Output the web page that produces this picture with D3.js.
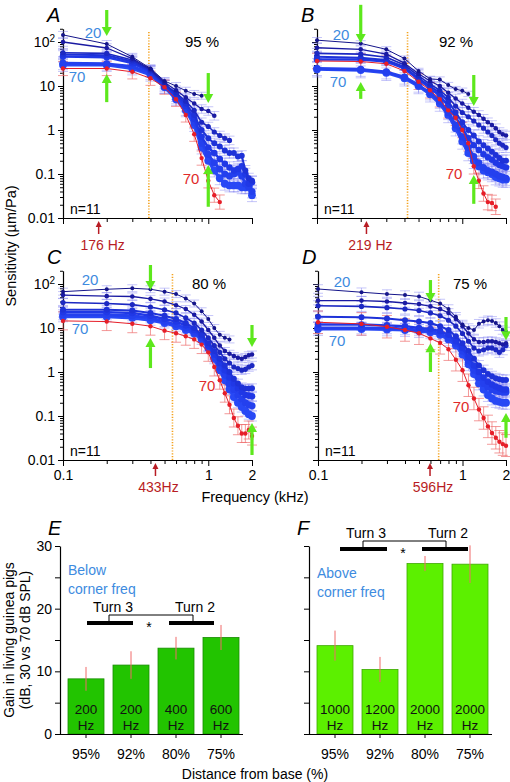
<!DOCTYPE html>
<html><head><meta charset="utf-8">
<script src="https://cdn.jsdelivr.net/npm/d3@7"></script>
<style>
body{margin:0;background:#fff}
svg{display:block}
text{font-family:"Liberation Sans",Arial,Helvetica,sans-serif}
</style>
</head><body>
<svg id="c" width="510" height="782"></svg>
<script>
// ---------------- DATA ----------------
const freqs = [0.1,0.2,0.3,0.4,0.5,0.6,0.7,0.8,0.9,1.0,1.1,1.2,1.3,1.4,1.5,1.6,1.7,1.8,1.9,2.0];
const seriesNames = ["20 dB","30 dB","40 dB","45 dB","50 dB","55 dB","60 dB","70 dB"];
const N = null;

const panelA = [
  [145,90,46,25,13,10,7.8,6.6,6.0,N,N,N,N,N,N,N,N,N,N,N],
  [100,73,42,24,12,8,5.5,4,3.0,2.7,2.1,N,N,N,N,N,N,N,N,N],
  [57,55,39,23,11,7,4.5,2.8,1.5,1.2,0.9,0.75,0.65,0.58,N,N,N,N,N,N],
  [52,50,36,22,10.5,6.5,4,2.2,1.0,0.65,0.5,0.42,0.34,0.3,0.3,0.25,0.26,0.12,0.08,0.07],
  [47,45,33,21,10,6,3.5,1.8,0.7,0.4,0.3,0.22,0.17,0.14,0.12,0.13,0.15,0.1,0.06,0.065],
  [33,32,28,19.5,9.5,5.5,3.0,1.5,0.5,0.28,0.18,0.13,0.1,0.09,0.1,0.11,0.09,0.06,0.05,0.04],
  [30,30,25,18,9.5,5,2.8,1.3,0.4,0.2,0.12,0.08,0.06,0.055,0.055,0.055,0.05,0.05,0.055,0.033],
  [25,25,21,15,9.4,5,2.2,0.8,0.23,0.07,0.033,0.023,N,N,N,N,N,N,N,N]
];
const panelB = [
  [110,93,68,42,22,14.5,14,10.5,8.5,7.8,6.6,N,N,N,N,N,N,N,N,N],
  [74,68,53,33,19,13,10,7,5.2,4.0,3.2,2.6,2.2,1.8,1.5,1.3,1.1,0.9,0.8,0.75],
  [55,53,45,30,17,11,8,5.5,3.5,2.5,2.0,1.6,1.3,1.1,0.9,0.75,0.6,0.5,0.45,0.4],
  [46,44,39,27,15,10,7,4.5,2.5,1.5,1.0,0.75,0.55,0.45,0.38,0.32,0.27,0.23,0.2,0.2],
  [40,40,36,25,14,9,6,3.5,2.0,1.1,0.65,0.45,0.35,0.28,0.24,0.21,0.18,0.16,0.15,0.14],
  [25,24,21,16,10.5,7,4.5,2.5,1.3,0.7,0.4,0.25,0.18,0.14,0.12,0.11,0.1,0.09,0.085,0.08],
  [24,23,20,15,10,6.5,4,2.2,1.1,0.55,0.3,0.2,0.15,0.12,0.11,0.1,0.085,0.08,0.075,0.075],
  [37,36,32,22,12.5,8,5,2.8,1.9,1.0,0.5,0.15,0.07,0.036,0.023,0.022,0.018,N,N,N]
];
const panelC = [
  [67,76,80,76,67,59,47,36,24,16,10,7,6,5.5,N,N,N,N,N,N],
  [56,53,52,46,40,33,27,20,14,9,6,4,3,2.6,2.3,2.1,2.0,2.2,2.4,2.5],
  [38,36,34,30,26,22,17,13,9,6,4,2.8,2.0,1.6,1.3,1.2,1.1,1.15,1.3,1.4],
  [26,26,25,22,19,16,13,10,7,4.5,3,2,1.4,1.0,0.7,0.55,0.45,0.42,0.42,0.43],
  [23,23,22,19,16,14,11.5,9,6.5,4,2.5,1.6,1.1,0.75,0.55,0.42,0.35,0.3,0.29,0.28],
  [20,20,19,17,14,12,10,8,6,3.8,2.2,1.3,0.85,0.55,0.4,0.3,0.24,0.2,0.18,0.17],
  [18,18,17,15,13,11,9,7.5,5.5,3.5,2,1.1,0.65,0.4,0.27,0.2,0.16,0.13,0.11,0.1],
  [14.5,14,12.5,11,8.7,7.6,6.5,5.5,4.2,2.8,1.3,0.65,0.33,0.18,0.09,0.06,0.04,0.04,0.048,0.035]
];
const panelD = [
  [77,65,59,56,52,43,36,27,18,12,10,9,12.5,14,15,14.5,13,11,9,8.3],
  [42,42,40,37,35,31,27,22,16,11,7.5,5.5,4.8,4.8,5.0,5.0,4.8,4.5,4.2,4.5],
  [32,31,29,27,25,22,19,15,11,7.5,5,3.5,3.0,3.2,3.5,3.5,3.2,2.8,3.2,4.0],
  [18,17.5,16.5,15,14,13,11,9,6.5,4.5,3,2,1.4,1.1,0.9,0.8,0.72,0.68,0.66,0.66],
  [12,12,11.5,11,10,9.5,8.5,7,5,3.5,2.2,1.4,1.0,0.75,0.6,0.52,0.47,0.43,0.4,0.4],
  [10,10,10,9.5,9,8.5,7.5,6,4.5,3,1.8,1.1,0.75,0.55,0.45,0.4,0.37,0.36,0.35,0.35],
  [9.5,9.5,9.3,9,8.5,8,7,5.5,4,2.5,1.5,0.9,0.55,0.4,0.3,0.25,0.22,0.21,0.2,0.2],
  [13.5,12.4,10.7,9,7.6,5.8,4.6,3.3,1.9,1.1,0.5,0.25,0.14,0.09,0.058,0.041,0.032,0.026,0.023,0.021]
];
// multiplicative error (SEM) estimate per series
const errA = [1.2,1.25,1.25,1.3,1.35,1.4,1.4,1.45];
const errB = [1.15,1.25,1.3,1.35,1.4,1.45,1.5,1.5];
const errC = [1.2,1.2,1.25,1.25,1.3,1.3,1.3,1.6];
const errD = [1.25,1.25,1.3,1.3,1.35,1.35,1.4,1.8];

const placeLabels = ["95 %","92 %","80 %","75 %"];
const cornerFreqs = [0.39,0.42,0.567,0.684];          // dotted orange line (kHz)
const markerHz = [176,219,433,596];
const markerText = ["176 Hz","219 Hz","433Hz","596Hz"];
// green arrows: [freq, from value, to value]
const arrowsA = [[0.2,533,137],[0.2,4.3,18.8],[1.0,19.7,4.1],[1.0,0.018,0.16]];
const arrowsB = [[0.2,700,95],[0.2,5.1,12.3],[1.2,17.8,3.5],[1.2,0.021,0.095]];
const arrowsC = [[0.4,270,73],[0.4,1.23,5.9],[2.0,11.7,3.7],[2.0,0.013,0.069]];
const arrowsD = [[0.6,123,39],[0.6,1.0,4.5],[2.0,17.8,5.3],[2.0,0.032,0.117]];

const yMajor = [0.01,0.1,1,10,100];
const yMajorLabels = ["0.01","0.1","1","10","10²"];
const xTickVals = [0.1,0.2,0.3,0.4,0.5,0.6,0.7,0.8,0.9,1,2];
const xTickLabels = {"0.1":"0.1","1":"1","2":"2"};

const distances = ["95%","92%","80%","75%"];
const gainBelow = [8.8,11.0,13.7,15.4];
const gainBelowErr = [1.9,2.2,1.8,2.0];
const freqBelow = ["200","200","400","600"];
const gainAbove = [14.1,10.3,27.2,27.1];
const gainAboveErr = [2.4,2.0,1.2,3.0];
const freqAbove = ["1000","1200","2000","2000"];
const gainTicks = [0,5,10,15,20,25,30];

// ---------------- STYLES ----------------
const blueStyles = [
  {c:"#15158a", w:1.0, r:2.0},
  {c:"#1a1aa2", w:1.3, r:2.3},
  {c:"#1c28c2", w:1.6, r:2.6},
  {c:"#1e32d8", w:2.0, r:3.0},
  {c:"#2038e6", w:2.4, r:3.3},
  {c:"#2440ee", w:2.8, r:3.6},
  {c:"#2848f5", w:3.2, r:3.9}
];
const redStyle = {c:"#e61e28", w:1.0, r:2.2};
const lblBlue = "#3d8be0";
const darkRed = "#b81c24";
const green = "#5de81c";
const FS = 14;

const svg = d3.select("#c");

function drawPanel(p) {
  const g = svg.append("g");
  const x = d3.scaleLog().domain([0.1,2]).range([p.x0, p.x1]);
  const y = d3.scaleLog().domain([0.01,200]).range([p.y0, p.y0 - 44*Math.log10(20000)]);

  const minors = [];
  for (let e=-2; e<=2; e++) for (let k=2;k<=9;k++){ const v=k*Math.pow(10,e); if (v<=200) minors.push(v); }
  const yaxM = g.append("g").attr("transform",`translate(${p.x0},0)`)
    .call(d3.axisLeft(y).tickValues(minors).tickSize(3).tickFormat(""));
  yaxM.select(".domain").remove();
  const yax = g.append("g").attr("transform",`translate(${p.x0},0)`)
    .call(d3.axisLeft(y).tickValues(yMajor).tickSize(5).tickSizeOuter(0).tickPadding(3)
      .tickFormat((d,i)=> p.yLabels ? yMajorLabels[i] : ""));
  yax.selectAll("text").attr("font-size",FS).attr("fill","#000");
  if (p.yLabels) {
    yax.selectAll("text").filter(d=>d===100).text(null)
      .call(t=>{ t.append("tspan").text("10"); t.append("tspan").attr("dy",-5).attr("font-size",10).text("2"); });
  }
  const xax = g.append("g").attr("transform",`translate(0,${p.y0})`)
    .call(d3.axisBottom(x).tickValues(xTickVals).tickSize(4).tickSizeOuter(0).tickPadding(6)
      .tickFormat(d=> p.xLabels ? (xTickLabels[String(d)]||"") : ""));
  xax.selectAll("text").attr("font-size",FS).attr("fill","#000");
  xax.selectAll(".tick").filter(d=>d===0.1||d===1||d===2).select("line").attr("y2",6);
  g.selectAll(".domain").attr("stroke","#000").attr("stroke-width",1.2);

  g.append("line").attr("x1",x(p.corner)).attr("x2",x(p.corner))
    .attr("y1",y(0.01)).attr("y2",y(200)+3)
    .attr("stroke","#f4a21e").attr("stroke-width",1.6).attr("stroke-dasharray","1.2,1.6");

  const series = p.data.map((arr,i)=>({
    i, style: i<7 ? blueStyles[i] : redStyle, red: i===7, err: p.err[i],
    pts: arr.map((v,j)=>({f:freqs[j], v})).filter(d=>d.v!=null)
  }));

  series.forEach(s=>{
    const ec = s.red ? "rgba(238,110,110,0.7)" : "rgba(120,120,240,0.42)";
    const eg = g.append("g").attr("stroke",ec).attr("stroke-width",1);
    s.pts.forEach(d=>{
      const cx = x(d.f), yt = y(Math.min(d.v*s.err,200)), yb = y(Math.max(d.v/s.err,0.012));
      eg.append("line").attr("x1",cx).attr("x2",cx).attr("y1",yt).attr("y2",yb);
      eg.append("line").attr("x1",cx-5).attr("x2",cx+5).attr("y1",yt).attr("y2",yt);
      eg.append("line").attr("x1",cx-5).attr("x2",cx+5).attr("y1",yb).attr("y2",yb);
    });
  });
  const line = d3.line().x(d=>x(d.f)).y(d=>y(d.v));
  const order = [6,5,4,3,2,1,0,7];
  order.forEach(k=>{
    const s = series[k];
    g.append("path").datum(s.pts).attr("d",line).attr("fill","none")
      .attr("stroke",s.style.c).attr("stroke-width",s.style.w).attr("stroke-linejoin","round");
    g.selectAll(null).data(s.pts).enter().append("circle")
      .attr("cx",d=>x(d.f)).attr("cy",d=>y(d.v)).attr("r",s.style.r).attr("fill",s.style.c);
  });

  p.arrows.forEach(a=>{
    const ax = x(a[0]), y1 = y(a[1]), y2 = y(a[2]);
    const dir = y2>y1 ? 1 : -1;
    const head = 9;
    g.append("line").attr("x1",ax).attr("x2",ax).attr("y1",y1).attr("y2",y2-dir*head)
      .attr("stroke",green).attr("stroke-width",3.2);
    g.append("path").attr("d",`M${ax-5},${y2-dir*head}L${ax+5},${y2-dir*head}L${ax},${y2}Z`).attr("fill",green);
  });

  const mx = x(p.marker/1000);
  g.append("line").attr("x1",mx).attr("x2",mx).attr("y1",p.y0+16).attr("y2",p.y0+7)
    .attr("stroke",darkRed).attr("stroke-width",1.5);
  g.append("path").attr("d",`M${mx-3},${p.y0+9}L${mx+3},${p.y0+9}L${mx},${p.y0+3}Z`).attr("fill",darkRed);
  g.append("text").attr("x",mx+(p.xLabels?3:4)).attr("y",p.y0+32)
    .attr("text-anchor","middle").attr("font-size",FS).attr("fill",darkRed).text(p.markerText);

  const t = (txt,xx,yy,opt={})=> g.append("text").attr("x",xx).attr("y",yy).attr("font-size",opt.fs||15)
      .attr("fill",opt.c||"#000").attr("text-anchor",opt.a||"start").attr("font-style",opt.it?"italic":null).text(txt);
  t(p.letter, p.x0-16, p.y0-196, {fs:20, it:true});
  t(p.place, p.placeX, p.y0-171, {a:"middle"});
  t("20", p.x0+(p.l20dx), p.y0+p.l20dy, {c:lblBlue, a:"middle"});
  t("70", p.x0+p.l70dx, p.y0+p.l70dy, {c:lblBlue, a:"middle"});
  t("70", p.redX, p.redY, {c:"#e02a2a", a:"middle"});
  t("n=11", p.x0+7, p.y0-4, {fs:FS});
}

drawPanel({x0:63,x1:252,y0:218,data:panelA,err:errA,corner:cornerFreqs[0],arrows:arrowsA,
  marker:markerHz[0],markerText:markerText[0],yLabels:true,xLabels:false,letter:"A",place:placeLabels[0],placeX:202,
  l20dx:30,l20dy:-180,l70dx:14,l70dy:-136,redX:191,redY:184});
drawPanel({x0:317,x1:506,y0:218,data:panelB,err:errB,corner:cornerFreqs[1],arrows:arrowsB,
  marker:markerHz[1],markerText:markerText[1],yLabels:false,xLabels:false,letter:"B",place:placeLabels[1],placeX:456,
  l20dx:24,l20dy:-178,l70dx:21,l70dy:-131,redX:454,redY:179});
drawPanel({x0:63,x1:252,y0:460,data:panelC,err:errC,corner:cornerFreqs[2],arrows:arrowsC,
  marker:markerHz[2],markerText:markerText[2],yLabels:true,xLabels:true,letter:"C",place:placeLabels[2],placeX:209,
  l20dx:27,l20dy:-175,l70dx:17,l70dy:-126,redX:207,redY:391});
drawPanel({x0:318,x1:506,y0:460,data:panelD,err:errD,corner:cornerFreqs[3],arrows:arrowsD,
  marker:markerHz[3],markerText:markerText[3],yLabels:false,xLabels:true,letter:"D",place:placeLabels[3],placeX:470,
  l20dx:24,l20dy:-173,l70dx:19,l70dy:-114,redX:461,redY:412});

svg.append("text").attr("transform","translate(16,246) rotate(-90)").attr("text-anchor","middle")
  .attr("font-size",FS+0.5).text("Sensitivity (µm/Pa)");
svg.append("text").attr("x",255).attr("y",502).attr("text-anchor","middle").attr("font-size",FS+0.5).text("Frequency (kHz)");

// ---------------- BAR PANELS ----------------
function drawBars(o) {
  const g = svg.append("g");
  const x = d3.scaleBand().domain(distances).range([o.ax+3.5, o.ax+183.5]).paddingInner(0.2).paddingOuter(0.1);
  const y = d3.scaleLinear().domain([0,30]).range([734,546]);
  g.selectAll(null).data(o.vals).enter().append("rect")
    .attr("x",(d,i)=>x(distances[i])).attr("width",x.bandwidth())
    .attr("y",d=>y(d)).attr("height",d=>y(0)-y(d))
    .attr("fill",o.fill).attr("stroke",o.stroke).attr("stroke-width",0.8);
  g.selectAll(null).data(o.vals).enter().append("line")
    .attr("x1",(d,i)=>x(distances[i])+x.bandwidth()/2).attr("x2",(d,i)=>x(distances[i])+x.bandwidth()/2)
    .attr("y1",(d,i)=>y(d+o.err[i])).attr("y2",(d,i)=>y(d-o.err[i]))
    .attr("stroke","#f06a6a").attr("stroke-width",1);
  o.freqs.forEach((f,i)=>{
    const cx = x(distances[i])+x.bandwidth()/2;
    g.append("text").attr("x",cx).attr("y",714).attr("text-anchor","middle").attr("font-size",13.5).attr("fill","#111").text(f);
    g.append("text").attr("x",cx).attr("y",730).attr("text-anchor","middle").attr("font-size",13.5).attr("fill","#111").text("Hz");
  });
  const yax = g.append("g").attr("transform",`translate(${o.ax},0)`)
    .call(d3.axisLeft(y).tickValues(gainTicks).tickSize(5).tickSizeOuter(0).tickPadding(3)
      .tickFormat(d=> o.labels && d%10===0 ? String(d) : ""));
  yax.selectAll("text").attr("font-size",FS).attr("fill","#000");
  const xax = g.append("g").attr("transform",`translate(0,734)`)
    .call(d3.axisBottom(x).tickSize(4).tickSizeOuter(0).tickPadding(11));
  xax.select(".domain").attr("d",`M${o.ax},0.5H${o.ax+183}`);
  xax.selectAll("text").attr("font-size",FS).attr("fill","#000");
  g.selectAll(".domain").attr("stroke","#000").attr("stroke-width",1.2);

  g.append("text").attr("x",o.ax+8).attr("y",o.noteY).attr("font-size",FS).attr("fill",lblBlue).text(o.note);
  g.append("text").attr("x",o.ax+8).attr("y",o.noteY+19).attr("font-size",FS).attr("fill",lblBlue).text("corner freq");

  const b = o.br;
  g.append("text").attr("x",b.t3).attr("y",b.ty).attr("text-anchor","middle").attr("font-size",FS).text("Turn 3");
  g.append("text").attr("x",b.t2).attr("y",b.ty).attr("text-anchor","middle").attr("font-size",FS).text("Turn 2");
  g.append("path").attr("d",`M${b.l1},${b.by-2}V${b.by-8}H${b.l2}V${b.by-2}`).attr("fill","none").attr("stroke","#000").attr("stroke-width",1);
  g.append("line").attr("x1",b.a0).attr("x2",b.a1).attr("y1",b.by).attr("y2",b.by).attr("stroke","#000").attr("stroke-width",4);
  g.append("line").attr("x1",b.c0).attr("x2",b.c1).attr("y1",b.by).attr("y2",b.by).attr("stroke","#000").attr("stroke-width",4);
  g.append("text").attr("x",b.star).attr("y",b.by+9).attr("text-anchor","middle").attr("font-size",FS).text("*");
  g.append("text").attr("x",o.ax-12).attr("y",o.letterY).attr("font-size",20).attr("font-style","italic").text(o.letter);
}

drawBars({ax:60, vals:gainBelow, err:gainBelowErr, freqs:freqBelow, labels:true,
  fill:"#22c400", stroke:"#178c00", note:"Below", noteY:575, letter:"E", letterY:535,
  br:{t3:113,t2:195,ty:612,l1:109,l2:193,by:623,a0:87,a1:133,c0:169,c1:214,star:149}});
drawBars({ax:309, vals:gainAbove, err:gainAboveErr, freqs:freqAbove, labels:false,
  fill:"#5cf000", stroke:"#3da800", note:"Above", noteY:578, letter:"F", letterY:535,
  br:{t3:366,t2:448,ty:538,l1:363,l2:446,by:549,a0:340,a1:387,c0:422,c1:468,star:403}});

svg.append("text").attr("transform","translate(14,640) rotate(-90)").attr("text-anchor","middle")
  .attr("font-size",FS).text("Gain in living guinea pigs");
svg.append("text").attr("transform","translate(30,640) rotate(-90)").attr("text-anchor","middle")
  .attr("font-size",FS).text("(dB, 30 vs 70 dB SPL)");
svg.append("text").attr("x",255).attr("y",779).attr("text-anchor","middle").attr("font-size",FS).text("Distance from base (%)");
</script>
</body></html>
